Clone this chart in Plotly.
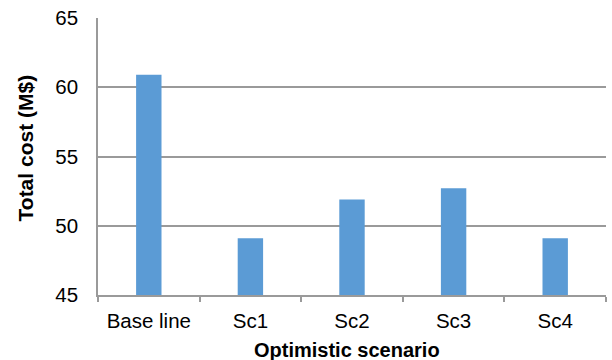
import plotly.graph_objects as go

categories = ["Base line", "Sc1", "Sc2", "Sc3", "Sc4"]
total_cost = [60.9, 49.1, 51.9, 52.7, 49.1]
y_ticks = [45, 50, 55, 60, 65]

x_title = "Optimistic scenario"
y_title = "Total cost (M$)"

fig = go.Figure(
    go.Bar(
        x=categories,
        y=total_cost,
        marker=dict(color="#5B9BD5", line=dict(width=0)),
    )
)

fig.update_layout(
    width=612,
    height=360,
    margin=dict(l=98, r=6, t=18, b=65),
    paper_bgcolor="white",
    plot_bgcolor="white",
    bargap=0.75,
    showlegend=False,
    font=dict(family="Liberation Sans, Arial, sans-serif", size=20.5, color="#000000"),
)

fig.update_xaxes(
    showline=True,
    linecolor="#9a9a9a",
    linewidth=1.5,
    ticks="outside",
    tickson="boundaries",
    ticklen=5,
    tickcolor="#9a9a9a",
    tickwidth=1.5,
    showgrid=False,
    ticklabelstandoff=7,
    tickfont=dict(size=20.5),
)

fig.update_yaxes(
    range=[45, 65],
    tickvals=y_ticks,
    showline=True,
    linecolor="#9a9a9a",
    linewidth=1.5,
    showgrid=True,
    gridcolor="#9a9a9a",
    gridwidth=1.5,
    ticks="",
    ticklabelstandoff=14,
    tickfont=dict(size=20.5),
    zeroline=False,
)

# Axis titles placed as paper-anchored annotations
fig.add_annotation(
    text=f"<b>{x_title}</b>",
    xref="paper", yref="paper",
    x=0.49, y=-0.198,
    xanchor="center", yanchor="middle",
    showarrow=False,
    font=dict(size=20),
)
fig.add_annotation(
    text=f"<b>{y_title}</b>",
    xref="paper", yref="paper",
    x=-0.1437, y=0.529,
    xanchor="center", yanchor="middle",
    textangle=-90,
    showarrow=False,
    font=dict(size=21),
)

fig.write_html("out.html")
